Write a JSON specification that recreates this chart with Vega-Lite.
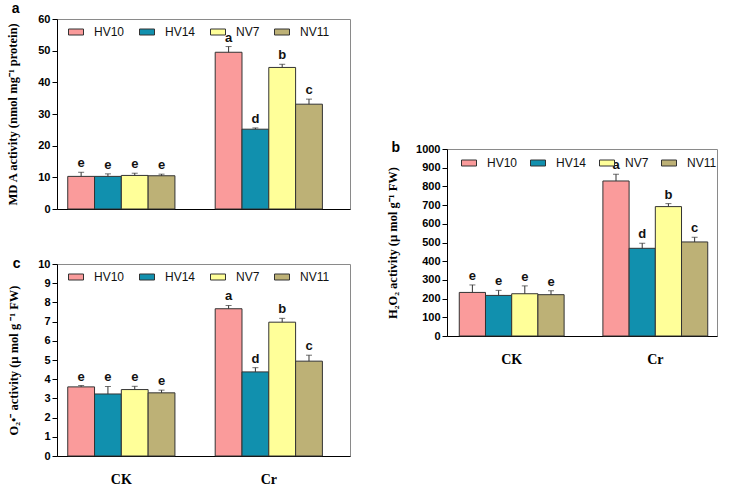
{
  "$schema": "https://vega.github.io/schema/vega-lite/v6.json",
  "background": "white",
  "padding": {"left": 6, "top": 1, "right": 5, "bottom": 5},
  "datasets": {
    "mda": [
      {"trt": "CK", "cv": "HV10", "v": 10.3, "hi": 11.6, "lab": "e"},
      {"trt": "CK", "cv": "HV14", "v": 10.3, "hi": 11.1, "lab": "e"},
      {"trt": "CK", "cv": "NV7", "v": 10.6, "hi": 11.3, "lab": "e"},
      {"trt": "CK", "cv": "NV11", "v": 10.5, "hi": 11.0, "lab": "e"},
      {"trt": "Cr", "cv": "HV10", "v": 49.5, "hi": 51.3, "lab": "a"},
      {"trt": "Cr", "cv": "HV14", "v": 25.2, "hi": 25.6, "lab": "d"},
      {"trt": "Cr", "cv": "NV7", "v": 44.7, "hi": 45.7, "lab": "b"},
      {"trt": "Cr", "cv": "NV11", "v": 33.1, "hi": 34.7, "lab": "c"}
    ],
    "h2o2": [
      {"trt": "CK", "cv": "HV10", "v": 233, "hi": 273, "lab": "e"},
      {"trt": "CK", "cv": "HV14", "v": 217, "hi": 244, "lab": "e"},
      {"trt": "CK", "cv": "NV7", "v": 226, "hi": 268, "lab": "e"},
      {"trt": "CK", "cv": "NV11", "v": 221, "hi": 242, "lab": "e"},
      {"trt": "Cr", "cv": "HV10", "v": 829, "hi": 865, "lab": "a"},
      {"trt": "Cr", "cv": "HV14", "v": 469, "hi": 496, "lab": "d"},
      {"trt": "Cr", "cv": "NV7", "v": 692, "hi": 708, "lab": "b"},
      {"trt": "Cr", "cv": "NV11", "v": 503, "hi": 528, "lab": "c"}
    ],
    "o2": [
      {"trt": "CK", "cv": "HV10", "v": 3.6, "hi": 3.67, "lab": "e"},
      {"trt": "CK", "cv": "HV14", "v": 3.23, "hi": 3.62, "lab": "e"},
      {"trt": "CK", "cv": "NV7", "v": 3.46, "hi": 3.63, "lab": "e"},
      {"trt": "CK", "cv": "NV11", "v": 3.29, "hi": 3.43, "lab": "e"},
      {"trt": "Cr", "cv": "HV10", "v": 7.67, "hi": 7.84, "lab": "a"},
      {"trt": "Cr", "cv": "HV14", "v": 4.38, "hi": 4.6, "lab": "d"},
      {"trt": "Cr", "cv": "NV7", "v": 6.97, "hi": 7.17, "lab": "b"},
      {"trt": "Cr", "cv": "NV11", "v": 4.94, "hi": 5.25, "lab": "c"}
    ]
  },
  "spacing": 35,
  "resolve": {"scale": {"x": "independent", "y": "independent", "color": "independent", "xOffset": "independent"}, "legend": {"color": "independent"}},
  "hconcat": [
    {
      "spacing": 41,
      "resolve": {"scale": {"x": "independent", "y": "independent", "color": "independent", "xOffset": "independent"}, "legend": {"color": "independent"}},
      "vconcat": [
        {
          "width": 293, "height": 190,
          "data": {"name": "mda"},
          "title": {"text": "a", "anchor": "start", "frame": "bounds", "offset": -3, "dx": 5},
          "encoding": {
            "x": {"field": "trt", "type": "nominal", "sort": ["CK", "Cr"], "scale": {"paddingInner": 0.273, "paddingOuter": 0.13, "align": 0.28}, "axis": {"labels": false, "ticks": false, "title": null}},
            "xOffset": {"field": "cv", "type": "nominal", "sort": ["HV10", "HV14", "NV7", "NV11"], "scale": {"paddingInner": 0, "paddingOuter": 0}}
          },
          "layer": [
            {"mark": {"type": "bar", "stroke": "#333", "strokeWidth": 1},
             "encoding": {
               "y": {"field": "v", "type": "quantitative", "scale": {"domain": [0, 60], "nice": false}, "axis": {"values": [0, 10, 20, 30, 40, 50, 60], "title": "MD A activity (nmol mg⁻¹ protein)", "titlePadding": 18}},
               "color": {"field": "cv", "type": "nominal", "sort": ["HV10", "HV14", "NV7", "NV11"], "scale": {"domain": ["HV10", "HV14", "NV7", "NV11"], "range": ["#FA9B9B", "#1190AE", "#FFFF99", "#BDB176"]}, "legend": {"orient": "none", "legendX": 11, "legendY": 5, "direction": "horizontal", "title": null}}
             }},
            {"mark": {"type": "rule", "color": "#333", "strokeWidth": 1}, "encoding": {"y": {"field": "v", "type": "quantitative", "axis": {"values": [0, 10, 20, 30, 40, 50, 60], "title": "MD A activity (nmol mg⁻¹ protein)", "titlePadding": 18}}, "y2": {"field": "hi"}}},
            {"mark": {"type": "tick", "orient": "horizontal", "color": "#333", "size": 6, "thickness": 1}, "encoding": {"y": {"field": "hi", "type": "quantitative", "axis": {"values": [0, 10, 20, 30, 40, 50, 60], "title": "MD A activity (nmol mg⁻¹ protein)", "titlePadding": 18}}}},
            {"mark": {"type": "text", "baseline": "bottom", "dy": -2, "font": "Liberation Sans", "fontWeight": "bold", "fontSize": 13, "color": "#111"}, "encoding": {"y": {"field": "hi", "type": "quantitative", "axis": {"values": [0, 10, 20, 30, 40, 50, 60], "title": "MD A activity (nmol mg⁻¹ protein)", "titlePadding": 18}}, "text": {"field": "lab"}}}
          ]
        },
        {
          "width": 293, "height": 192,
          "data": {"name": "o2"},
          "title": {"text": "c", "anchor": "start", "frame": "bounds", "offset": -13, "dx": 5},
          "encoding": {
            "x": {"field": "trt", "type": "nominal", "sort": ["CK", "Cr"], "scale": {"paddingInner": 0.273, "paddingOuter": 0.13, "align": 0.28}, "axis": {"ticks": false, "title": null}},
            "xOffset": {"field": "cv", "type": "nominal", "sort": ["HV10", "HV14", "NV7", "NV11"], "scale": {"paddingInner": 0, "paddingOuter": 0}}
          },
          "layer": [
            {"mark": {"type": "bar", "stroke": "#333", "strokeWidth": 1},
             "encoding": {
               "y": {"field": "v", "type": "quantitative", "scale": {"domain": [0, 10], "nice": false}, "axis": {"values": [0, 1, 2, 3, 4, 5, 6, 7, 8, 9, 10], "title": "O₂•⁻   activity (µ mol g  ⁻¹ FW)", "titlePadding": 17}},
               "color": {"field": "cv", "type": "nominal", "sort": ["HV10", "HV14", "NV7", "NV11"], "scale": {"domain": ["HV10", "HV14", "NV7", "NV11"], "range": ["#FA9B9B", "#1190AE", "#FFFF99", "#BDB176"]}, "legend": {"orient": "none", "legendX": 11, "legendY": 5, "direction": "horizontal", "title": null}}
             }},
            {"mark": {"type": "rule", "color": "#333", "strokeWidth": 1}, "encoding": {"y": {"field": "v", "type": "quantitative", "axis": {"values": [0, 1, 2, 3, 4, 5, 6, 7, 8, 9, 10], "title": "O₂•⁻   activity (µ mol g  ⁻¹ FW)", "titlePadding": 17}}, "y2": {"field": "hi"}}},
            {"mark": {"type": "tick", "orient": "horizontal", "color": "#333", "size": 6, "thickness": 1}, "encoding": {"y": {"field": "hi", "type": "quantitative", "axis": {"values": [0, 1, 2, 3, 4, 5, 6, 7, 8, 9, 10], "title": "O₂•⁻   activity (µ mol g  ⁻¹ FW)", "titlePadding": 17}}}},
            {"mark": {"type": "text", "baseline": "bottom", "dy": -2, "font": "Liberation Sans", "fontWeight": "bold", "fontSize": 13, "color": "#111"}, "encoding": {"y": {"field": "hi", "type": "quantitative", "axis": {"values": [0, 1, 2, 3, 4, 5, 6, 7, 8, 9, 10], "title": "O₂•⁻   activity (µ mol g  ⁻¹ FW)", "titlePadding": 17}}, "text": {"field": "lab"}}}
          ]
        }
      ]
    },
    {
      "spacing": 0,
      "resolve": {"scale": {"x": "independent", "y": "independent", "color": "independent", "xOffset": "independent"}, "legend": {"color": "independent"}},
      "vconcat": [
        {
          "width": 270, "height": 121,
          "view": {"stroke": null},
          "data": {"values": []},
          "mark": {"type": "rule"},
          "encoding": {}
        },
        {
          "width": 270, "height": 187,
          "data": {"name": "h2o2"},
          "title": {"text": "b", "anchor": "start", "frame": "bounds", "offset": -12, "dx": 5},
          "encoding": {
            "x": {"field": "trt", "type": "nominal", "sort": ["CK", "Cr"], "scale": {"paddingInner": 0.27, "paddingOuter": 0.075, "align": 0.57}, "axis": {"ticks": false, "title": null}},
            "xOffset": {"field": "cv", "type": "nominal", "sort": ["HV10", "HV14", "NV7", "NV11"], "scale": {"paddingInner": 0, "paddingOuter": 0}}
          },
          "layer": [
            {"mark": {"type": "bar", "stroke": "#333", "strokeWidth": 1},
             "encoding": {
               "y": {"field": "v", "type": "quantitative", "scale": {"domain": [0, 1000], "nice": false}, "axis": {"values": [0, 100, 200, 300, 400, 500, 600, 700, 800, 900, 1000], "format": "d", "title": "H₂O₂   activity (µ mol g⁻¹ FW)", "titlePadding": 16}},
               "color": {"field": "cv", "type": "nominal", "sort": ["HV10", "HV14", "NV7", "NV11"], "scale": {"domain": ["HV10", "HV14", "NV7", "NV11"], "range": ["#FA9B9B", "#1190AE", "#FFFF99", "#BDB176"]}, "legend": {"orient": "none", "legendX": 14, "legendY": 6, "direction": "horizontal", "title": null, "columnPadding": 10}}
             }},
            {"mark": {"type": "rule", "color": "#333", "strokeWidth": 1}, "encoding": {"y": {"field": "v", "type": "quantitative", "axis": {"values": [0, 100, 200, 300, 400, 500, 600, 700, 800, 900, 1000], "format": "d", "title": "H₂O₂   activity (µ mol g⁻¹ FW)", "titlePadding": 16}}, "y2": {"field": "hi"}}},
            {"mark": {"type": "tick", "orient": "horizontal", "color": "#333", "size": 6, "thickness": 1}, "encoding": {"y": {"field": "hi", "type": "quantitative", "axis": {"values": [0, 100, 200, 300, 400, 500, 600, 700, 800, 900, 1000], "format": "d", "title": "H₂O₂   activity (µ mol g⁻¹ FW)", "titlePadding": 16}}}},
            {"mark": {"type": "text", "baseline": "bottom", "dy": -2, "font": "Liberation Sans", "fontWeight": "bold", "fontSize": 13, "color": "#111"}, "encoding": {"y": {"field": "hi", "type": "quantitative", "axis": {"values": [0, 100, 200, 300, 400, 500, 600, 700, 800, 900, 1000], "format": "d", "title": "H₂O₂   activity (µ mol g⁻¹ FW)", "titlePadding": 16}}, "text": {"field": "lab"}}}
          ]
        }
      ]
    }
  ],
  "config": {
    "view": {"stroke": "#8a8a8a", "strokeWidth": 1},
    "title": {"font": "Liberation Sans", "fontSize": 14, "fontWeight": "bold", "color": "#000", "baseline": "bottom"},
    "axis": {"grid": false, "domainColor": "#000", "domainWidth": 1, "tickColor": "#000", "tickSize": 5, "labelColor": "#000",
             "titleColor": "#000", "titleFont": "Liberation Serif", "titleFontWeight": "bold", "titleFontSize": 12.5},
    "axisY": {"labelFont": "Liberation Sans", "labelFontWeight": "bold", "labelFontSize": 11, "labelPadding": 2},
    "axisX": {"labelAngle": 0, "labelFont": "Liberation Serif", "labelFontWeight": "bold", "labelFontSize": 14, "labelPadding": 16},
    "legend": {"symbolType": "M-1,-0.4H1V0.4H-1Z", "symbolSize": 225, "symbolStrokeColor": "#333", "symbolStrokeWidth": 1, "symbolOpacity": 1,
               "labelFont": "Liberation Sans", "labelFontSize": 12, "labelColor": "#111", "labelOffset": 10, "columnPadding": 12, "padding": 0}
  }
}
